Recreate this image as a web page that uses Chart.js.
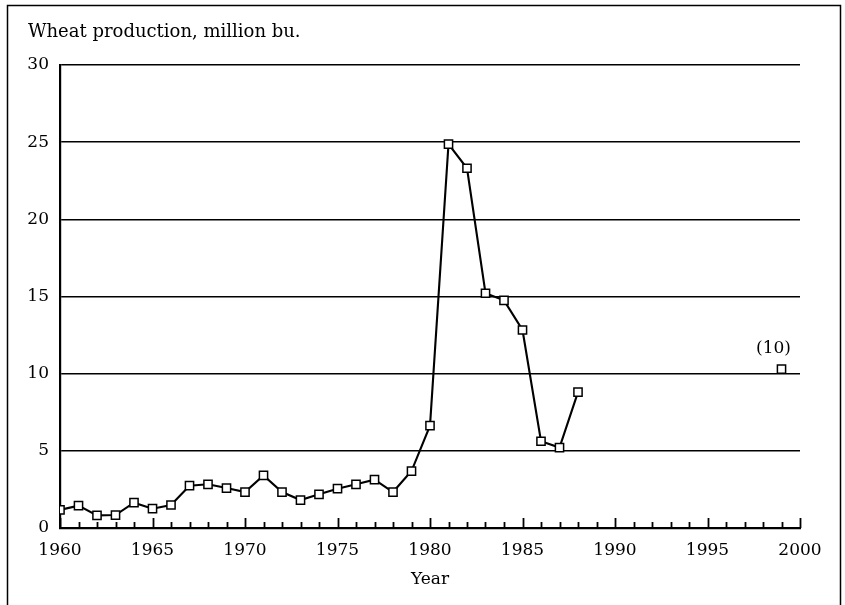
<!DOCTYPE html>
<html>
<head>
<meta charset="utf-8">
<script src="https://cdn.jsdelivr.net/npm/chart.js@4"></script>
<style>
  html, body { margin: 0; padding: 0; background: #fff; }
  #wrap { width: 845px; height: 605px; }
</style>
</head>
<body>
<div id="wrap"><canvas id="myChart" width="845" height="605"></canvas></div>
<script>
// values
const years = [1960, 1961, 1962, 1963, 1964, 1965, 1966, 1967, 1968, 1969,
  1970, 1971, 1972, 1973, 1974, 1975, 1976, 1977, 1978, 1979,
  1980, 1981, 1982, 1983, 1984, 1985, 1986, 1987, 1988];
const production = [1.17, 1.45, 0.82, 0.84, 1.64, 1.25, 1.49, 2.74, 2.83, 2.59,
  2.33, 3.41, 2.33, 1.81, 2.18, 2.55, 2.83, 3.13, 2.33, 3.69,
  6.63, 24.87, 23.31, 15.21, 14.75, 12.83, 5.62, 5.21, 8.80];
const projectionYears = [1999];
const projectionValues = [10.3];
const projectionLabel = '(10)';
const yTicks = [0, 5, 10, 15, 20, 25, 30];
const xTickLabels = [1960, 1965, 1970, 1975, 1980, 1985, 1990, 1995, 2000];
const yTitle = 'Wheat production, million bu.';
const xTitle = 'Year';

const serif = "'DejaVu Serif', 'Liberation Serif', serif";
Chart.defaults.font.family = serif;
Chart.defaults.font.size = 17;
Chart.defaults.color = '#000';

const ctx = document.getElementById('myChart').getContext('2d');

// frame, top-left title, inside tick marks and the "(10)" note
const extras = {
  id: 'extras',
  beforeDraw(chart) {
    const c = chart.ctx;
    c.save();
    c.fillStyle = '#fff';
    c.fillRect(0, 0, chart.width, chart.height);
    c.strokeStyle = '#000';
    c.lineWidth = 1.5;
    c.beginPath();
    c.moveTo(7.5, 620);
    c.lineTo(7.5, 5.5);
    c.lineTo(840.5, 5.5);
    c.lineTo(840.5, 620);
    c.stroke();
    c.restore();
  },
  afterDraw(chart) {
    const c = chart.ctx;
    const xs = chart.scales.x;
    const bottom = chart.chartArea.bottom;
    c.save();
    c.fillStyle = '#000';
    c.font = '18px ' + serif;
    c.textAlign = 'left';
    c.textBaseline = 'alphabetic';
    c.fillText(yTitle, 28, 37);

    c.strokeStyle = '#000';
    c.lineWidth = 1.8;
    c.beginPath();
    for (let yr = xs.min; yr <= xs.max; yr++) {
      const px = Math.round(xs.getPixelForValue(yr)) + 0.5;
      const len = yr % 5 === 0 ? 10 : 6;
      c.moveTo(px, bottom);
      c.lineTo(px, bottom - len);
    }
    c.stroke();

    const meta = chart.getDatasetMeta(1);
    const pt = meta.data[0];
    c.font = '17px ' + serif;
    c.textAlign = 'center';
    c.textBaseline = 'middle';
    c.fillText(projectionLabel, pt.x - 8, pt.y - 20);
    c.restore();
  }
};

const pointStyle = {
  pointStyle: 'rect',
  pointRadius: 5.8,
  pointHoverRadius: 5.8,
  pointBackgroundColor: '#fff',
  pointBorderColor: '#000',
  pointBorderWidth: 1.5,
};

const myChart = new Chart(ctx, {
  type: 'line',
  data: {
    datasets: [
      Object.assign({
        data: years.map((y, i) => ({ x: y, y: production[i] })),
        borderColor: '#000',
        borderWidth: 2.1,
        tension: 0,
        fill: false,
      }, pointStyle),
      Object.assign({
        data: projectionYears.map((y, i) => ({ x: y, y: projectionValues[i] })),
        showLine: false,
      }, pointStyle),
    ],
  },
  options: {
    responsive: false,
    animation: false,
    layout: { padding: { top: 65, left: 0, right: 45, bottom: 0 } },
    plugins: {
      legend: { display: false },
      tooltip: { enabled: false },
    },
    scales: {
      x: {
        type: 'linear',
        min: 1960,
        max: 2000,
        afterFit: (scale) => { scale.height = 77; },
        afterBuildTicks: (scale) => {
          scale.ticks = xTickLabels.map(v => ({ value: v }));
        },
        grid: { display: false, drawTicks: false },
        border: { display: true, color: '#000', width: 2.2 },
        ticks: {
          padding: 12,
          maxRotation: 0,
          autoSkip: false,
          callback: (v) => String(v),
        },
        title: { display: true, text: xTitle, padding: { top: 0, bottom: 15 } },
      },
      y: {
        min: 0,
        max: 30,
        afterFit: (scale) => { scale.width = 60; },
        afterBuildTicks: (scale) => {
          scale.ticks = yTicks.map(v => ({ value: v }));
        },
        grid: { color: '#000', lineWidth: 1.4, drawTicks: false },
        border: { display: true, color: '#000', width: 2.2 },
        ticks: { padding: 11 },
      },
    },
  },
  plugins: [extras],
});
</script>
</body>
</html>
